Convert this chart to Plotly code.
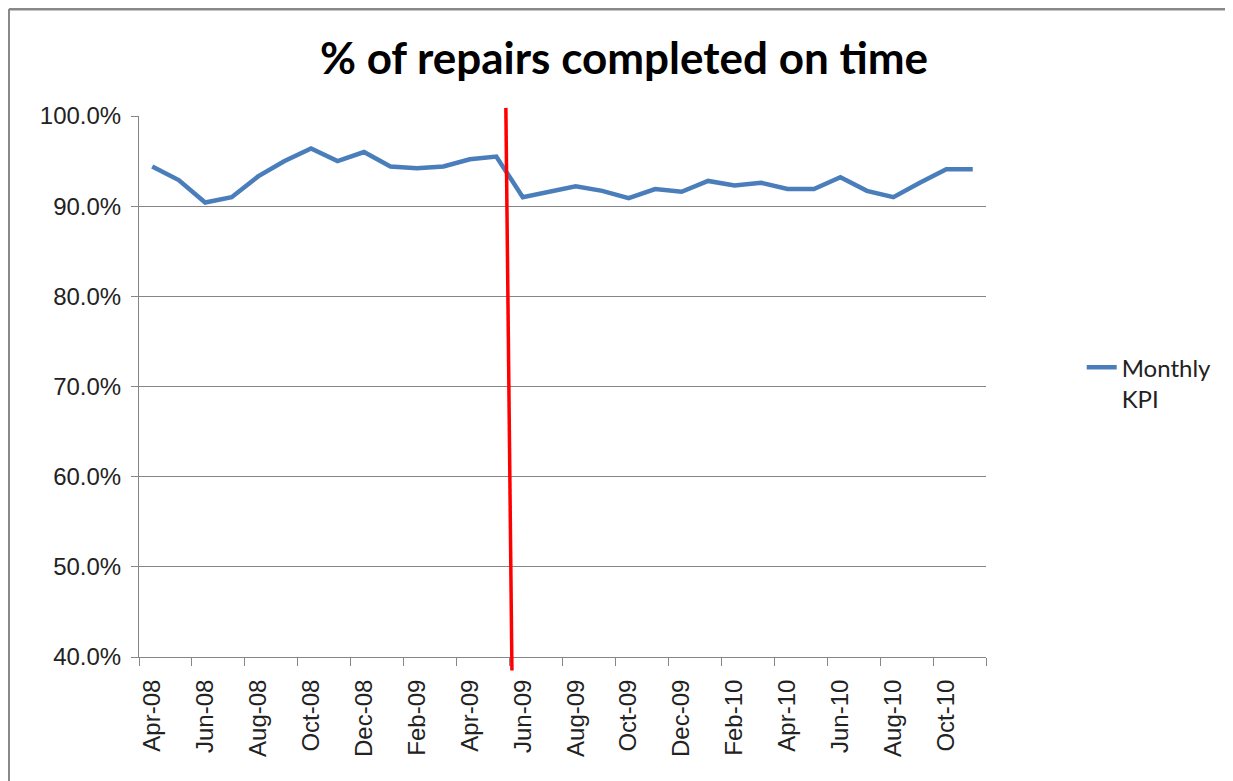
import plotly.graph_objects as go

months = ["Apr-08", "May-08", "Jun-08", "Jul-08", "Aug-08", "Sep-08", "Oct-08", "Nov-08",
          "Dec-08", "Jan-09", "Feb-09", "Mar-09", "Apr-09", "May-09", "Jun-09", "Jul-09",
          "Aug-09", "Sep-09", "Oct-09", "Nov-09", "Dec-09", "Jan-10", "Feb-10", "Mar-10",
          "Apr-10", "May-10", "Jun-10", "Jul-10", "Aug-10", "Sep-10", "Oct-10", "Nov-10"]
monthly_kpi = [94.4, 92.9, 90.4, 91.0, 93.3, 95.0, 96.4, 95.0,
               96.0, 94.4, 94.2, 94.4, 95.2, 95.5, 91.0, 91.6,
               92.2, 91.7, 90.9, 91.9, 91.6, 92.8, 92.3, 92.6,
               91.9, 91.9, 93.2, 91.7, 91.0, 92.6, 94.1, 94.1]
y_ticks = [40, 50, 60, 70, 80, 90, 100]
y_min, y_max = 40, 100

x = list(range(len(months)))
tick_idx = x[::2]
tick_text = months[::2]
boundaries = [i - 0.5 for i in range(0, len(months) + 1, 2)]

fig = go.Figure()
fig.add_trace(go.Scatter(
    x=x, y=monthly_kpi, mode="lines", name="Monthly<br>KPI",
    line=dict(color="#4A7EBB", width=4.5),
))

# red divider between May-09 and Jun-09 (slightly slanted, overshooting the plot area)
div_base = months.index("May-09")
to_paper = lambda v: (v - y_min) / (y_max - y_min)
fig.add_shape(type="line", xref="x", yref="paper",
              x0=div_base + 0.36, y0=to_paper(100.9),
              x1=div_base + 0.59, y1=to_paper(38.5),
              line=dict(color="#FF0000", width=3.5))

# outer chart border (top and left)
fig.add_shape(type="line", xref="paper", yref="paper",
              x0=-0.1535, y0=1.1978, x1=1.35, y1=1.1978,
              line=dict(color="#888888", width=3))
fig.add_shape(type="line", xref="paper", yref="paper",
              x0=-0.1535, y0=1.1978, x1=-0.1535, y1=-0.3,
              line=dict(color="#888888", width=2))

fig.update_layout(
    width=1225, height=773,
    margin=dict(l=131, r=247, t=108, b=124),
    paper_bgcolor="white", plot_bgcolor="white",
    title=dict(text="<b>% of repairs completed on time</b>", x=0.5726, xref="paper",
               y=0.935, yref="container", xanchor="center", yanchor="middle",
               font=dict(family="Lato", size=44, color="black")),
    showlegend=True,
    legend=dict(x=1.113, y=0.506, xanchor="left", yanchor="middle", valign="top",
                font=dict(family="Lato", size=24, color="#222222"),
                bgcolor="rgba(0,0,0,0)"),
)
fig.update_xaxes(
    range=[-0.5, len(months) - 0.5],
    tickmode="array", tickvals=tick_idx, ticktext=tick_text,
    tickangle=-90, ticks="", showgrid=False, ticklabelstandoff=12,
    showline=True, linecolor="#868686", linewidth=1,
    tickfont=dict(family="Liberation Sans", size=24, color="#222222"),
    minor=dict(tickmode="array", tickvals=boundaries, ticks="outside",
               ticklen=8, tickcolor="#868686", showgrid=False),
    zeroline=False,
)
fig.update_yaxes(
    range=[y_min, y_max], tickmode="array", tickvals=y_ticks,
    ticktext=[f"{v:.1f}%" for v in y_ticks],
    ticks="outside", ticklen=7, tickcolor="#868686", ticklabelstandoff=5,
    showgrid=True, gridcolor="#868686", gridwidth=1,
    showline=True, linecolor="#868686", linewidth=1,
    tickfont=dict(family="Liberation Sans", size=24, color="#222222"),
    zeroline=False,
)

fig.write_html("out.html")
